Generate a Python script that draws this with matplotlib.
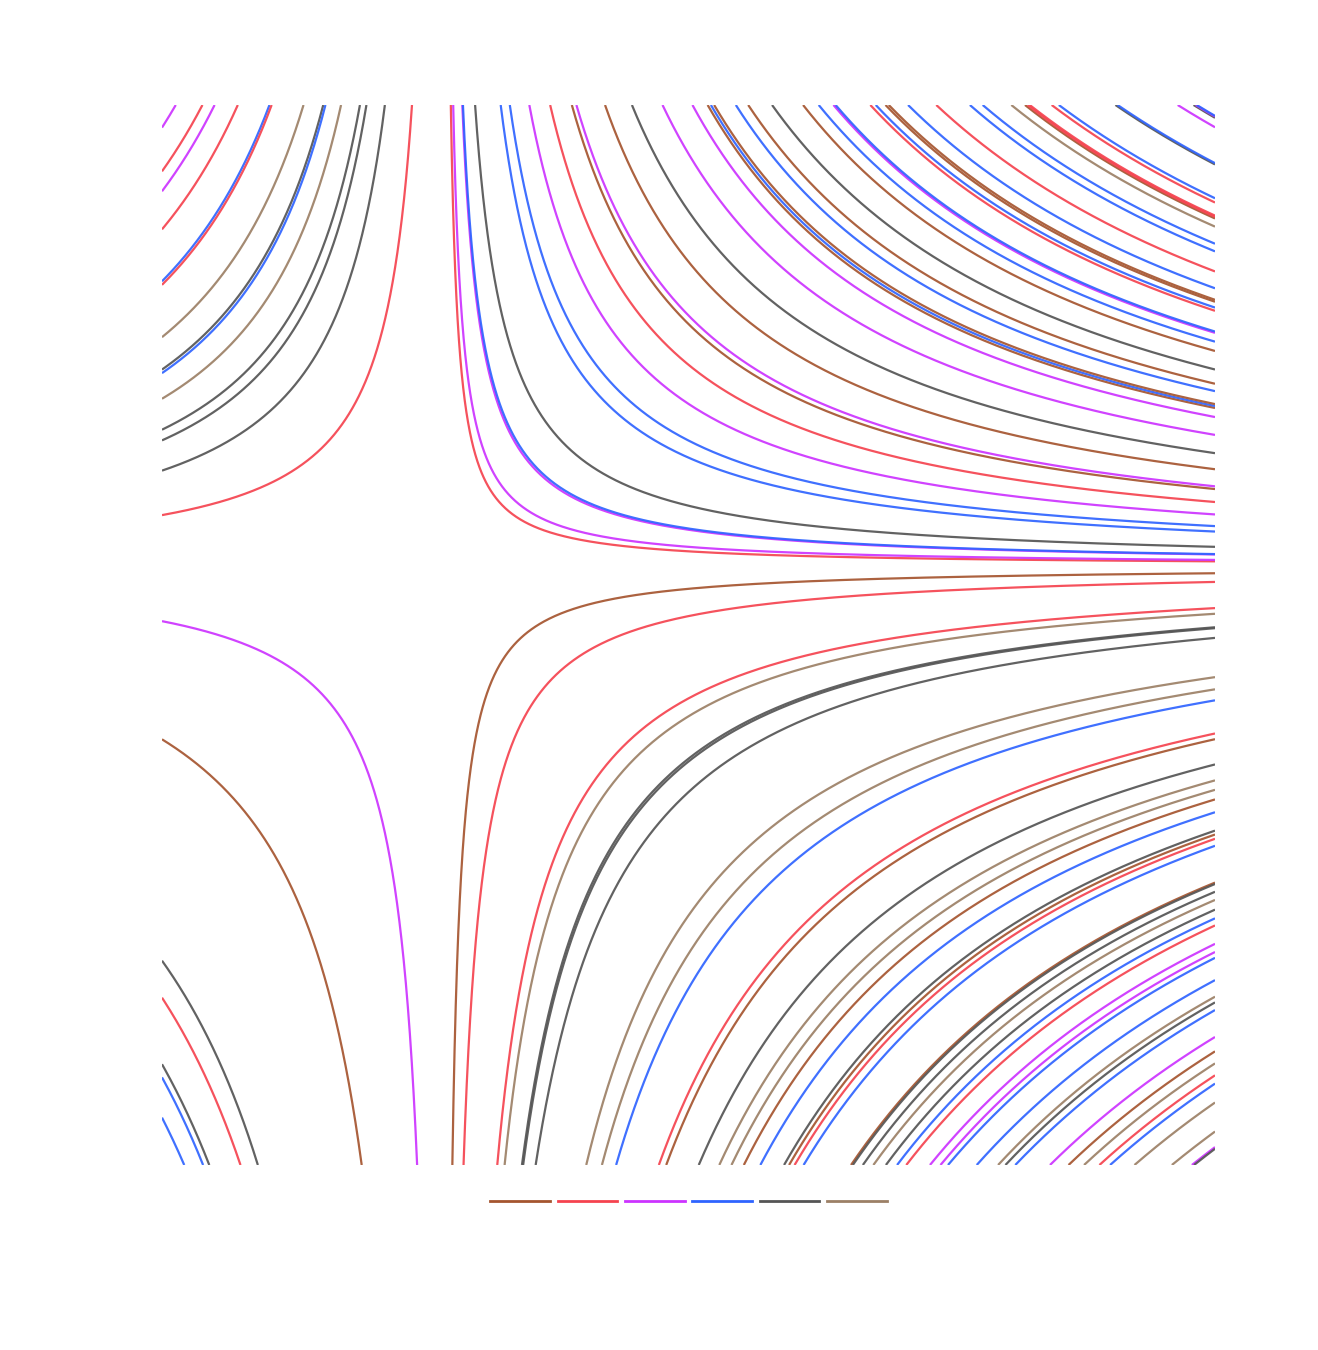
import numpy as np
import matplotlib
matplotlib.use("Agg")
from matplotlib import pyplot as plt
from matplotlib.lines import Line2D

# colour groups
group_names = ["brown", "red", "purple", "blue", "gray", "tan"]
group_colors = ["#a5552f", "#f5434f", "#cc33ff", "#2f64ff", "#555555", "#9c8066"]

# plot window (hyperbola centre at 0, 0)
x_min, x_max = -2.81, 7.72
y_min, y_max = -5.99, 4.61

# x*y = c, upper right quadrant
ur_c = [0.36, 0.47, 0.89, 0.92, 1.48, 2.66, 3.08, 3.98, 4.94, 5.94, 6.15, 7.47,
        8.71, 10.12, 11.5, 12.2, 12.35, 12.5, 13.5, 14.07, 15.17, 16.6, 17.32,
        18.0, 18.1, 19.7, 19.95, 20.4, 20.55, 21.44, 22.74, 24.29, 24.88, 26.2,
        26.83, 26.95, 27.05, 28.06, 28.39, 31.0, 31.1, 33.87, 34.6, 34.7, 34.75]
ur_group = ["red", "purple", "purple", "blue", "gray", "blue", "blue", "purple", "red", "brown", "purple", "brown",
            "gray", "purple", "purple", "brown", "blue", "brown", "blue", "brown", "gray", "brown", "blue",
            "purple", "blue", "red", "blue", "brown", "brown", "blue", "red", "blue", "blue", "tan",
            "brown", "red", "red", "red", "blue", "gray", "blue", "purple", "gray", "purple", "blue"]

# upper left quadrant
ul_c = [-12.32, -11.09, -10.53, -9.46, -8.0, -7.9, -6.43, -5.52, -5.42, -4.7,
        -3.83, -3.53, -2.68, -1.43]
ul_group = ["purple", "red", "purple", "red", "blue", "red", "tan", "gray", "blue", "tan",
            "gray", "gray", "gray", "red"]

# lower left quadrant
ll_c = [1.55, 4.87, 11.09, 12.13, 14.0, 14.37, 15.5]
ll_group = ["purple", "brown", "gray", "red", "gray", "blue", "blue"]

# lower right quadrant
lr_c = [-0.56, -1.23, -3.25, -3.69, -4.73, -4.8, -5.55, -8.58, -9.52, -10.37,
        -12.93, -13.37, -15.32, -16.55, -17.28, -18.02, -19.01, -20.43, -20.73, -21.06,
        -21.6, -24.44, -24.55, -25.15, -25.78, -26.53, -27.2, -27.75, -29.17, -29.8,
        -30.25, -31.97, -33.25, -33.69, -34.28, -36.36, -37.47, -38.4, -39.32, -39.96,
        -41.42, -43.66, -44.86, -44.99]
lr_group = ["brown", "red", "red", "tan", "gray", "gray", "gray", "tan", "tan", "blue",
            "red", "brown", "gray", "tan", "tan", "brown", "blue", "gray", "brown", "red",
            "blue", "brown", "gray", "gray", "tan", "gray", "blue", "red", "purple", "purple",
            "blue", "blue", "tan", "gray", "blue", "purple", "brown", "tan", "red", "blue",
            "tan", "tan", "purple", "gray"]

color_of = dict(zip(group_names, group_colors))

fig = plt.figure(figsize=(13.18, 13.5), dpi=100)
ax = fig.add_axes([162 / 1318, 1 - 1165 / 1350, 1053 / 1318, 1060 / 1350])


def draw(cs, groups, x_sign, y_edge, x_edge):
    for c, g in zip(cs, groups):
        start = abs(c / y_edge)
        if start >= abs(x_edge):
            continue
        xs = x_sign * np.geomspace(start, abs(x_edge), 600)
        ax.plot(xs, c / xs, color=color_of[g], lw=1.6, alpha=0.92,
                solid_capstyle="butt")


draw(ur_c, ur_group, 1, y_max, x_max)
draw(ul_c, ul_group, -1, y_max, x_min)
draw(ll_c, ll_group, -1, y_min, x_min)
draw(lr_c, lr_group, 1, y_min, x_max)

ax.set_xlim(x_min, x_max)
ax.set_ylim(y_min, y_max)
ax.axis("off")

handles = [Line2D([], [], color=col, lw=2) for col in group_colors]
ax.legend(handles, [""] * len(handles), ncol=6, loc="center",
          bbox_to_anchor=(0.5, -0.035), frameon=False,
          handlelength=4.3, handletextpad=0, columnspacing=0.55)

fig.savefig("out.png", dpi=100)
